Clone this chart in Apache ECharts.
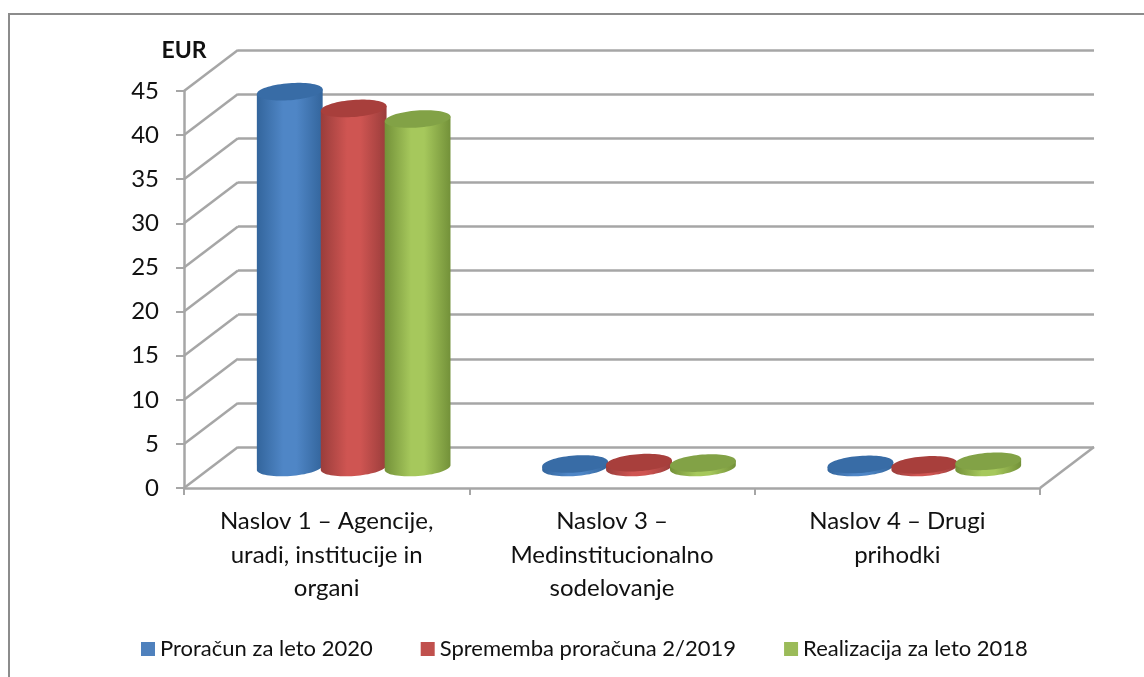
<!DOCTYPE html>
<html>
<head>
<meta charset="utf-8">
<style>html,body{margin:0;padding:0;background:#fff}#main{width:1144px;height:677px}</style>
<script src="https://cdn.jsdelivr.net/npm/echarts@6/dist/echarts.min.js"></script>
</head>
<body>
<div id="main"></div>
<script>
// data
var categories = ['Naslov 1 – Agencije,\nuradi, institucije in\norgani', 'Naslov 3 –\nMedinstitucionalno\nsodelovanje', 'Naslov 4 – Drugi\nprihodki'];
var proracun2020 = [42.6, 0.4, 0.35];
var sprememba2019 = [40.7, 0.55, 0.3];
var realizacija2018 = [39.5, 0.5, 0.7];
var seriesNames = ['Proračun za leto 2020', 'Sprememba proračuna 2/2019', 'Realizacija za leto 2018'];
var yTicks = [0, 5, 10, 15, 20, 25, 30, 35, 40, 45];

// look of the fake 3d
var depthX = 54, depthY = 41;
var rx = 33, ry = 8.5, tilt = 4.3 * Math.PI / 180;
var gridColor = '#a6a6a6', textColor = '#111', font = 'Lato';
var sideColors = [['#33659c', '#4f86c6'], ['#9a3d3b', '#cf5552'], ['#739139', '#a6c85c']];
var capColors = ['#386ca6', '#a83f3c', '#82a246'];
var legendColors = ['#4f81bd', '#c0504d', '#9bbb59'];

function ellipsePoint(cx, cy, t) {
	return [
		cx + rx * Math.cos(t) * Math.cos(tilt) + ry * Math.sin(t) * Math.sin(tilt),
		cy - rx * Math.cos(t) * Math.sin(tilt) + ry * Math.sin(t) * Math.cos(tilt)
	];
}

function cylinder(idx) {
	return function (params, api) {
		var band = api.size([1, 0])[0];
		var cat = api.value(0);
		var base = api.coord([cat, 0]);
		var top = api.coord([cat, api.value(1)]);
		var cx = base[0] + depthX / 2 + (idx - 1) * band * 0.224;
		var by = base[1] - depthY / 2;
		var ty = top[1] - depthY / 2;
		var side = [], cap = [], t;
		side.push(ellipsePoint(cx, ty, 0));
		for (t = 0; t <= 36; t++) {
			side.push(ellipsePoint(cx, by, Math.PI * t / 36));
		}
		side.push(ellipsePoint(cx, ty, Math.PI));
		for (t = 0; t < 72; t++) {
			cap.push(ellipsePoint(cx, ty, Math.PI * 2 * t / 72));
		}
		var c = sideColors[idx];
		return {
			type: 'group',
			children: [{
				type: 'polygon',
				shape: { points: side },
				style: {
					fill: new echarts.graphic.LinearGradient(0, 0, 1, 0, [
						{ offset: 0, color: c[0] },
						{ offset: 0.4, color: c[1] },
						{ offset: 0.6, color: c[1] },
						{ offset: 1, color: c[0] }
					])
				}
			}, {
				type: 'polygon',
				shape: { points: cap },
				style: { fill: capColors[idx] }
			}]
		};
	};
}

function floorLines(params, api) {
	var band = api.size([1, 0])[0];
	var p = api.coord([0, api.value(0)]);
	var x = p[0] - band / 2;
	var lines = [{
		type: 'line',
		shape: { x1: x, y1: p[1], x2: x + depthX, y2: p[1] - depthY },
		style: { stroke: gridColor, lineWidth: 2.5 }
	}];
	if (api.value(0) === 0) {
		var xr = x + band * categories.length;
		lines.push({
			type: 'line',
			shape: { x1: xr, y1: p[1], x2: xr + depthX, y2: p[1] - depthY },
			style: { stroke: gridColor, lineWidth: 2.5 }
		});
	}
	return { type: 'group', children: lines };
}

function cylinderData(values) {
	return values.map(function (v, i) { return [i, v]; });
}

var chart = echarts.init(document.getElementById('main'), null, { renderer: 'canvas' });
chart.setOption({
	animation: false,
	backgroundColor: '#fff',
	graphic: [{
		type: 'polyline',
		silent: true,
		shape: { points: [[9, 677], [9, 14], [1144, 14]] },
		style: { stroke: '#8c8c8c', lineWidth: 2, fill: null }
	}],
	grid: [
		{ left: 184, right: 104, top: 91, bottom: 189 },
		{ left: 184 + depthX, right: 104 - depthX, top: 91 - depthY, bottom: 189 + depthY }
	],
	legend: {
		data: seriesNames,
		icon: 'rect',
		left: 136,
		top: 633,
		itemWidth: 14,
		itemHeight: 14,
		itemGap: 48,
		textStyle: { fontFamily: font, fontSize: 22, color: textColor }
	},
	xAxis: [{
		type: 'category',
		gridIndex: 0,
		data: categories,
		axisLine: { lineStyle: { color: gridColor, width: 2.5 } },
		axisTick: { show: true, length: 7, lineStyle: { color: gridColor, width: 2 } },
		axisLabel: {
			interval: 0,
			margin: 17,
			fontFamily: font,
			fontSize: 24,
			lineHeight: 33.5,
			color: textColor
		}
	}, {
		type: 'value',
		gridIndex: 1,
		min: 0,
		max: 1,
		axisLine: { show: false },
		axisTick: { show: false },
		axisLabel: { show: false },
		splitLine: { show: false }
	}],
	yAxis: [{
		type: 'value',
		gridIndex: 0,
		min: 0,
		max: 45,
		interval: 5,
		name: 'EUR',
		nameLocation: 'end',
		nameGap: 29,
		nameTextStyle: { fontFamily: font, fontSize: 23, fontWeight: 'bold', color: textColor },
		axisLine: { show: true, lineStyle: { color: gridColor, width: 2.5 } },
		axisTick: { show: true, length: 8, lineStyle: { color: gridColor, width: 2 } },
		axisLabel: { fontFamily: font, fontSize: 24, color: textColor, margin: 25 },
		splitLine: { show: false }
	}, {
		type: 'value',
		gridIndex: 1,
		min: 0,
		max: 45,
		interval: 5,
		axisLine: { show: false },
		axisTick: { show: false },
		axisLabel: { show: false },
		splitLine: { show: true, lineStyle: { color: gridColor, width: 2.5 } }
	}],
	series: [{
		type: 'custom',
		name: 'floor',
		xAxisIndex: 0,
		yAxisIndex: 0,
		silent: true,
		clip: false,
		z: 1,
		renderItem: floorLines,
		encode: { y: 0 },
		data: yTicks.map(function (v) { return [v]; })
	}].concat([proracun2020, sprememba2019, realizacija2018].map(function (values, i) {
		return {
			type: 'custom',
			name: seriesNames[i],
			xAxisIndex: 0,
			yAxisIndex: 0,
			clip: false,
			z: 3 + i,
			itemStyle: { color: legendColors[i] },
			renderItem: cylinder(i),
			encode: { x: 0, y: 1 },
			data: cylinderData(values)
		};
	}))
});
</script>
</body>
</html>
